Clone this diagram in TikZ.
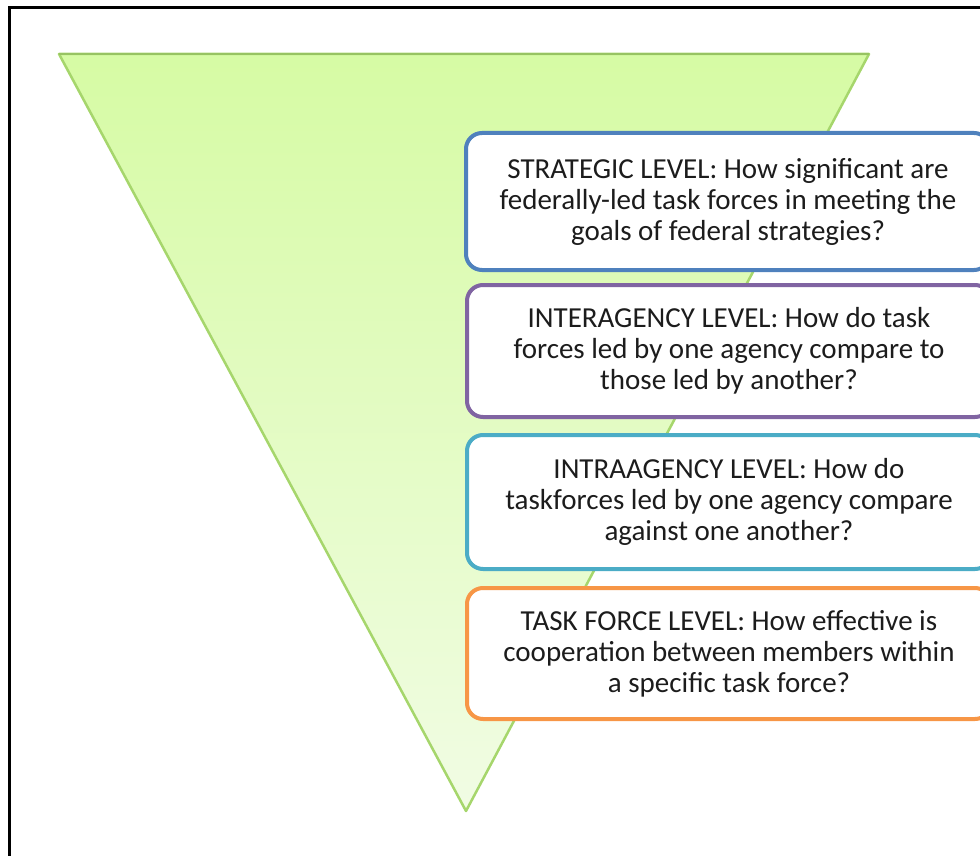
\documentclass[tikz,border=0pt]{standalone}
\usepackage{fontspec}
\setmainfont{Carlito}
\definecolor{triTop}{HTML}{D6FBA4}
\definecolor{triBot}{HTML}{F1FCE4}
\definecolor{triEdge}{HTML}{A6D66C}
\definecolor{cBlue}{HTML}{4F81BD}
\definecolor{cPurple}{HTML}{8064A2}
\definecolor{cCyan}{HTML}{4BACC6}
\definecolor{cOrange}{HTML}{F79646}
\definecolor{txt}{HTML}{1C1C1C}
\tikzset{
  levelbox/.style={draw, line width=4pt, fill=white, rounded corners=16pt,
    minimum width=524pt, minimum height=#1, inner sep=0pt, align=center,
    text=txt, font=\fontsize{29}{31}\selectfont, anchor=north west},
  levelbox/.default=136pt
}
\begin{document}
\begin{tikzpicture}[x=1pt,y=-1pt]
\useasboundingbox (0,0) rectangle (980,856);
\begin{scope}
\clip (0,0) rectangle (980,856);
% frame
\draw[line width=3pt, black] (9.5,7.5) rectangle (1000,880);
% inverted triangle
\coordinate (tl) at (59,54);
\coordinate (tr) at (869,54);
\coordinate (tip) at (466,811);
\shade[top color=triTop, bottom color=triBot, draw=triEdge, line width=2.5pt, line join=round]
  (tl) -- (tr) -- (tip) -- cycle;
\draw[triEdge!85!black!60!triEdge, line width=2pt] (tl) -- (tr);
% boxes
\node[levelbox=137pt, draw=cBlue] (strat) at (464,131)
  {STRATEGIC LEVEL: How significant are\\ federally-led task forces in meeting the\\ goals of federal strategies?};
\node[levelbox=132pt, draw=cPurple] (inter) at (465,283)
  {INTERAGENCY LEVEL: How do task\\ forces led by one agency compare to\\ those led by another?};
\node[levelbox=134pt, draw=cCyan] (intra) at (465,433)
  {INTRAAGENCY LEVEL: How do\\ taskforces led by one agency compare\\ against one another?};
\node[levelbox=131pt, draw=cOrange] (tf) at (465,586)
  {TASK FORCE LEVEL: How effective is\\ cooperation between members within\\ a specific task force?};
\end{scope}
\end{tikzpicture}
\end{document}
